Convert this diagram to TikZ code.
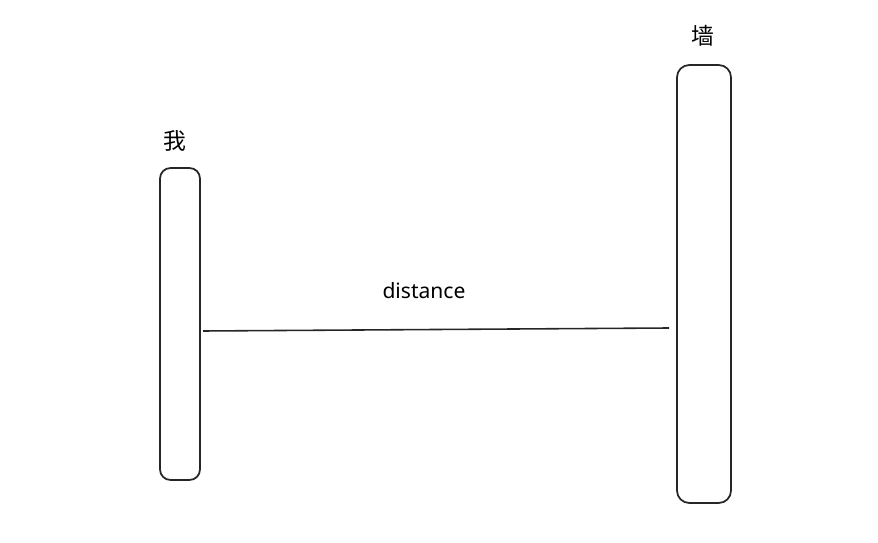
\documentclass[tikz,border=0pt]{standalone}
\usepackage{fontspec}
\setmainfont{Noto Sans}
\newfontfamily\cjk{Noto Sans CJK SC}
\usetikzlibrary{positioning}
\tikzset{bar/.style = {draw=black!85, line width=1pt, rounded corners=6pt, inner sep=0pt}}
\tikzset{caption/.style = {font=\cjk\fontsize{13}{15}\selectfont, inner sep=0pt}}

\begin{document}
\begin{tikzpicture}[x=0.02cm, y=-0.02cm]
	\useasboundingbox (0,0) rectangle (878,543);
	\node[bar, minimum width=40*0.02cm, minimum height=312*0.02cm] (me) at (180,324) {};
	\node[bar, minimum width=54*0.02cm, minimum height=438*0.02cm, rounded corners=7pt] (wall) at (704,284) {};
	\node[caption] (melabel) at (175,141) {我};
	\node[caption] (walllabel) at (703,36) {墙};
	\coordinate (dstart) at (203,331);
	\coordinate (dend) at (669,328);
	\draw[black!85, line width=0.9pt] (dstart) -- (dend);
	\node[font=\fontsize{12}{14}\selectfont, inner sep=0pt] (dist) at (424,291) {distance};
\end{tikzpicture}
\end{document}
